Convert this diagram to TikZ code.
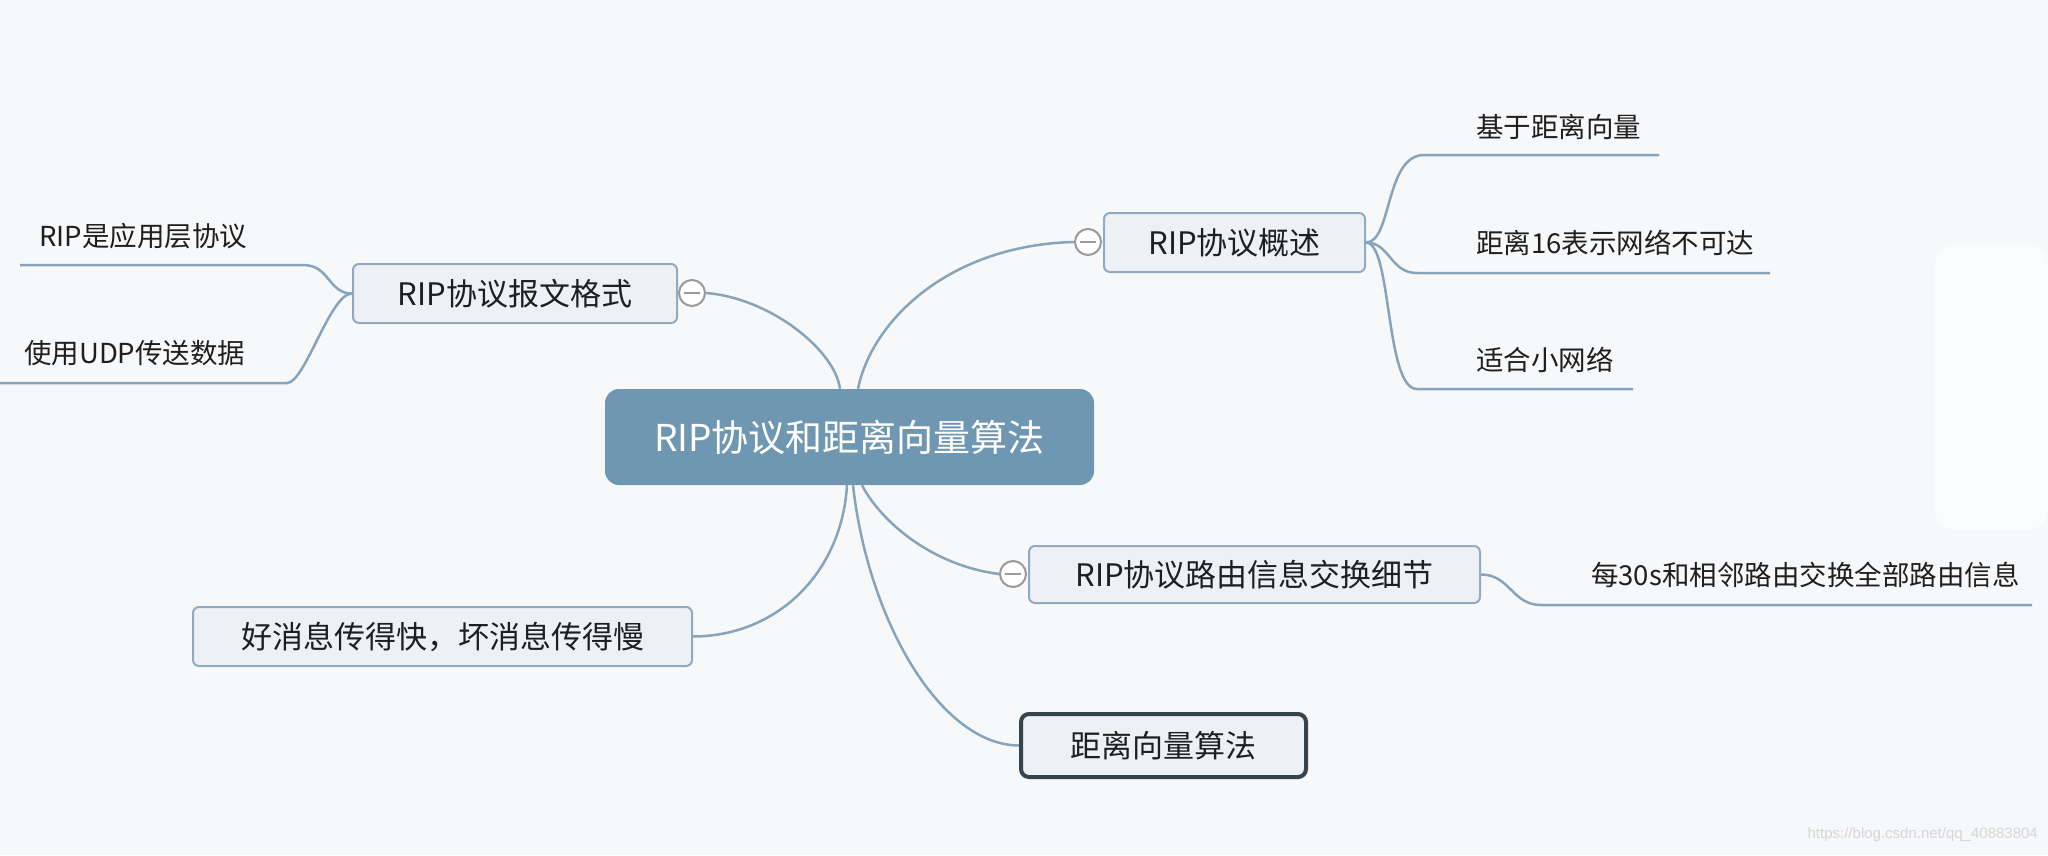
\documentclass[tikz,border=0pt]{standalone}
\usepackage{fontspec}
\setmainfont{Noto Sans CJK SC}
\newfontfamily\wmfont{Liberation Sans}

\definecolor{bg}{HTML}{F7F8FA}
\definecolor{linkc}{HTML}{86A4BB}
\definecolor{boxfill}{HTML}{EDF1F6}
\definecolor{boxline}{HTML}{90ABC1}
\definecolor{rootfill}{HTML}{6F97B2}
\definecolor{txt}{HTML}{1F1F1F}
\definecolor{dvline}{HTML}{36444E}
\definecolor{btn}{HTML}{9A9A9A}
\definecolor{wm}{HTML}{D6D6D6}

\tikzset{
  topic/.style={draw=boxline, fill=boxfill, line width=2pt, rounded corners=6pt,
    inner sep=0pt, text=txt, font=\fontsize{31}{31}\selectfont},
  roottopic/.style={fill=rootfill, rounded corners=14pt, inner sep=0pt,
    text=white, font=\fontsize{37}{37}\selectfont},
  leaf/.style={anchor=west, inner sep=0pt, text=txt, font=\fontsize{27.5}{27.5}\selectfont},
  link/.style={draw=linkc, line width=2.5pt},
  fold/.style={circle, draw=btn, fill=white, line width=2pt, minimum size=26pt, inner sep=0pt},
  foldbar/.style={draw=btn, line width=2.5pt},
}

\begin{document}
\begin{tikzpicture}[x=1pt, y=-1pt]
  % canvas
  \useasboundingbox (0,0) rectangle (2048,855);
  \fill[bg] (0,0) rectangle (2048,855);
  \fill[white, opacity=0.6, rounded corners=20pt] (1935,245) rectangle (2048,530);

  % central topic
  \node[roottopic, minimum width=489pt, minimum height=96pt] (root) at (849.5,437) {RIP协议和距离向量算法};

  % main topics
  \node[topic, minimum width=324pt, minimum height=59pt] (fmt) at (515,293.5) {RIP协议报文格式};
  \node[topic, minimum width=261pt, minimum height=59pt] (ovw) at (1234.5,242.5) {RIP协议概述};
  \node[topic, minimum width=451pt, minimum height=57pt] (xchg) at (1254.5,574.5) {RIP协议路由信息交换细节};
  \node[topic, minimum width=499pt, minimum height=59pt] (news) at (442.5,636.5) {好消息传得快，坏消息传得慢};
  \node[topic, draw=dvline, line width=4pt, rounded corners=8pt,
        minimum width=285pt, minimum height=63pt] (dv) at (1163.5,745.5) {距离向量算法};

  % collapse buttons
  \node[fold] (cfmt) at (692,293) {};
  \node[fold] (covw) at (1088,242) {};
  \node[fold] (cxchg) at (1013,574) {};
  \foreach \c in {cfmt,covw,cxchg}
    \draw[foldbar] ([xshift=-8pt]\c.center) -- ([xshift=8pt]\c.center);

  % links from the central topic
  \draw[link] ([xshift=-9.5pt]root.north) .. controls (835,350) and (770,298) .. (cfmt.east);
  \draw[link] ([xshift=8.5pt]root.north) .. controls (872,320) and (950,245) .. (covw.west);
  \draw[link] ([xshift=-2.5pt]root.south) .. controls (842,570) and (780,636) .. (news.east);
  \draw[link] ([xshift=3.5pt]root.south) .. controls (868,620) and (940,745) .. (dv.west);
  \draw[link] ([xshift=12.5pt]root.south) .. controls (880,520) and (930,565) .. (cxchg.west);

  % subtopics: text with underline
  \node[leaf] (l1) at (39,236) {RIP是应用层协议};
  \node[leaf] (l2) at (24,353) {使用UDP传送数据};
  \node[leaf] (r1) at (1476,127) {基于距离向量};
  \node[leaf] (r2) at (1476,243) {距离16表示网络不可达};
  \node[leaf] (r3) at (1476,360) {适合小网络};
  \node[leaf] (x1) at (1591,575) {每30s和相邻路由交换全部路由信息};

  \coordinate (l1a) at (20,265);   \coordinate (l1b) at (303,265);
  \coordinate (l2a) at (0,383);    \coordinate (l2b) at (287,383);
  \coordinate (r1a) at (1424,155); \coordinate (r1b) at (1659,155);
  \coordinate (r2a) at (1417,273); \coordinate (r2b) at (1770,273);
  \coordinate (r3a) at (1417,389); \coordinate (r3b) at (1633,389);
  \coordinate (x1a) at (1541,605); \coordinate (x1b) at (2032,605);

  \draw[link] (fmt.west) .. controls (328,293.5) and (330,265) .. (l1b) -- (l1a);
  \draw[link] (fmt.west) .. controls (330,293.5) and (305,383) .. (l2b) -- (l2a);
  \draw[link] (ovw.east) .. controls (1392,242.5) and (1385,155) .. (r1a) -- (r1b);
  \draw[link] (ovw.east) .. controls (1390,242.5) and (1390,273) .. (r2a) -- (r2b);
  \draw[link] (ovw.east) .. controls (1392,242.5) and (1385,389) .. (r3a) -- (r3b);
  \draw[link] (xchg.east) .. controls (1510,574.5) and (1512,605) .. (x1a) -- (x1b);

  % watermark
  \node[anchor=east, inner sep=0pt, text=wm, font=\wmfont\fontsize{15}{15}\selectfont]
    (mark) at (2038,835) {https://blog.csdn.net/qq\_40883804};
\end{tikzpicture}
\end{document}
